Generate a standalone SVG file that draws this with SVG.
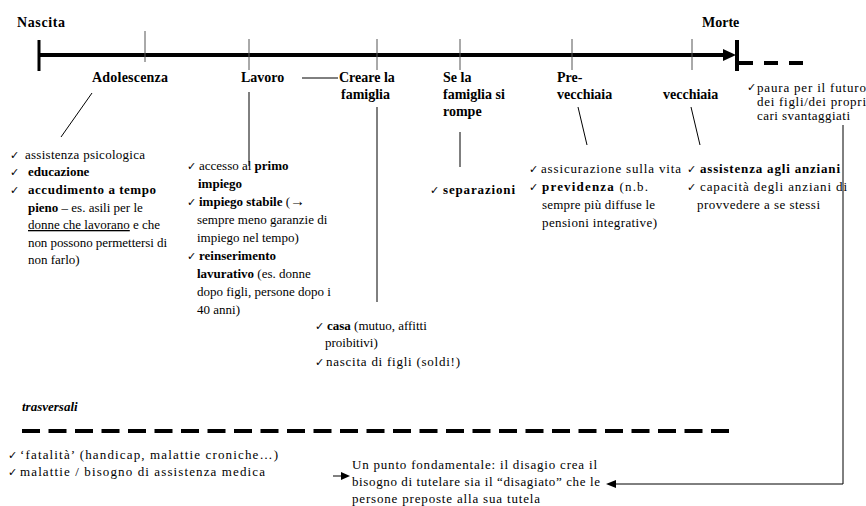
<svg xmlns="http://www.w3.org/2000/svg" width="866" height="506" viewBox="0 0 866 506" font-family="'Liberation Serif', 'DejaVu Serif', serif">
<defs>
<style>
.t{font-size:13px;fill:#000}
.b{font-weight:bold}
.h{font-size:14px;font-weight:bold;fill:#000}
.ck{font-family:"DejaVu Sans",sans-serif;font-size:11px;fill:#000}
.ln{stroke:#000;stroke-width:1;fill:none}
.tk{stroke:#555;stroke-width:1;fill:none}
</style>
</defs>
<rect width="866" height="506" fill="#fff"/>
<g id="timeline">
<line x1="39" y1="55" x2="726" y2="55" stroke="#000" stroke-width="4"/>
<polygon points="723,49 736,55 723,61" fill="#000"/>
<line x1="39" y1="40" x2="39" y2="71" stroke="#000" stroke-width="3"/>
<line x1="737" y1="40" x2="737" y2="71" stroke="#000" stroke-width="4"/>
<line x1="739" y1="63" x2="805" y2="63" stroke="#000" stroke-width="4" stroke-dasharray="14 11"/>
<line class="tk" x1="145" y1="31" x2="145" y2="62"/>
<line class="tk" x1="249" y1="39" x2="249" y2="70"/>
<line class="tk" x1="377" y1="39" x2="377" y2="70"/>
<line class="tk" x1="460" y1="39" x2="460" y2="70"/>
<line class="tk" x1="572" y1="39" x2="572" y2="70"/>
<line class="tk" x1="692" y1="39" x2="692" y2="70"/>
</g>
<g id="nascita"><text class="h" x="17" y="27" textLength="48">Nascita</text></g>
<g id="morte"><text class="h" x="702" y="27">Morte</text></g>
<g id="adolescenza"><text class="h" x="92" y="82" textLength="76">Adolescenza</text></g>
<g id="lavoro"><text class="h" x="241" y="82">Lavoro</text></g>
<g id="creare"><text class="h" x="339" y="82">Creare la</text><text class="h" x="341" y="99">famiglia</text></g>
<g id="serompe"><text class="h" x="443" y="82">Se la</text><text class="h" x="443" y="99">famiglia si</text><text class="h" x="443" y="116">rompe</text></g>
<g id="prevecchiaia"><text class="h" x="557" y="82">Pre-</text><text class="h" x="557" y="99">vecchiaia</text></g>
<g id="vecchiaia"><text class="h" x="663" y="99">vecchiaia</text></g>
<g id="paura">
<text class="ck" x="747" y="91">✓</text>
<text class="t" x="757" y="92" textLength="109">paura per il futuro</text>
<text class="t" x="757" y="106" textLength="109">dei figli/dei propri</text>
<text class="t" x="757" y="120" textLength="93">cari svantaggiati</text>
</g>
<g id="adol-list">
<text class="ck" x="10" y="159">✓</text>
<text class="t" x="25" y="159" textLength="120">assistenza psicologica</text>
<text class="ck" x="10" y="176">✓</text>
<text class="t b" x="28" y="176">educazione</text>
<text class="ck" x="10" y="194">✓</text>
<text class="t b" x="28" y="194" textLength="128">accudimento a tempo</text>
<text class="t" x="28" y="212"><tspan class="b">pieno</tspan> – es. asili  per le</text>
<text class="t" x="28" y="229"><tspan text-decoration="underline">donne che lavorano</tspan> e che</text>
<text class="t" x="28" y="247" textLength="139">non possono permettersi di</text>
<text class="t" x="28" y="264">non farlo)</text>
</g>
<g id="lavoro-list">
<text class="ck" x="187" y="170">✓</text>
<text class="t" x="199" y="170">accesso al <tspan class="b">primo</tspan></text>
<text class="t b" x="198" y="188">impiego</text>
<text class="ck" x="187" y="206">✓</text>
<text class="t" x="199" y="206"><tspan class="b">impiego stabile</tspan> (<tspan class="b" font-size="15">→</tspan></text>
<text class="t" x="197" y="224">sempre meno garanzie di</text>
<text class="t" x="197" y="242">impiego nel tempo)</text>
<text class="ck" x="187" y="260">✓</text>
<text class="t b" x="199" y="260">reinserimento</text>
<text class="t" x="197" y="278"><tspan class="b">lavurativo</tspan> (es. donne</text>
<text class="t" x="197" y="296">dopo figli, persone dopo i</text>
<text class="t" x="197" y="314">40 anni)</text>
</g>
<g id="famiglia-list">
<text class="ck" x="315" y="330">✓</text>
<text class="t" x="327" y="330"><tspan class="b">casa</tspan> (mutuo, affitti</text>
<text class="t" x="325" y="347">proibitivi)</text>
<text class="ck" x="315" y="366">✓</text>
<text class="t" x="326" y="366" textLength="134">nascita di figli (soldi!)</text>
</g>
<g id="separazioni-list">
<text class="ck" x="430" y="194">✓</text>
<text class="t b" x="443" y="194" textLength="72">separazioni</text>
</g>
<g id="prevecchiaia-list">
<text class="ck" x="529" y="173">✓</text>
<text class="t" x="541" y="173" textLength="140">assicurazione sulla vita</text>
<text class="ck" x="529" y="191">✓</text>
<text class="t" x="542" y="191" textLength="106"><tspan class="b">previdenza</tspan> (n.b.</text>
<text class="t" x="542" y="209" textLength="113">sempre più diffuse le</text>
<text class="t" x="542" y="227" textLength="115">pensioni integrative)</text>
</g>
<g id="vecchiaia-list">
<text class="ck" x="687" y="173">✓</text>
<text class="t b" x="700" y="173" textLength="140">assistenza agli anziani</text>
<text class="ck" x="687" y="191">✓</text>
<text class="t" x="700" y="191" textLength="147">capacità degli anziani di</text>
<text class="t" x="697" y="209" textLength="123">provvedere a se stessi</text>
</g>
<g id="trasversali">
<text class="t" x="22" y="411" font-style="italic" font-weight="bold" font-size="12">trasversali</text>
<line x1="22" y1="431" x2="736" y2="431" stroke="#000" stroke-width="4" stroke-dasharray="18 8.5"/>
<text class="ck" x="8" y="459">✓</text>
<text class="t" x="20" y="459" textLength="258">‘fatalità’ (handicap, malattie croniche…)</text>
<text class="ck" x="8" y="476">✓</text>
<text class="t" x="20" y="476" textLength="245">malattie / bisogno di assistenza medica</text>
</g>
<g id="punto">
<text class="t" x="352" y="469" textLength="245">Un punto fondamentale: il disagio crea il</text>
<text class="t" x="352" y="486" textLength="248">bisogno di tutelare sia il “disagiato” che le</text>
<text class="t" x="352" y="503" textLength="188">persone preposte alla sua tutela</text>
</g>
<g id="connectors">
<line class="ln" x1="92" y1="93" x2="61" y2="137"/>
<line class="ln" x1="302" y1="78" x2="338" y2="78"/>
<line class="ln" x1="249" y1="92" x2="249" y2="166"/>
<line class="ln" x1="377" y1="107" x2="377" y2="302"/>
<line class="ln" x1="460" y1="132" x2="460" y2="167"/>
<line class="ln" x1="578" y1="107" x2="587" y2="145"/>
<line class="ln" x1="691" y1="107" x2="700" y2="145"/>
<polyline class="ln" points="843,125 843,484 615,484"/>
<polygon points="606,484 616,480 616,488" fill="#000"/>
<line class="ln" x1="333" y1="476" x2="342" y2="476"/>
<polygon points="350,476 341,472 341,480" fill="#000"/>
</g>
</svg>
